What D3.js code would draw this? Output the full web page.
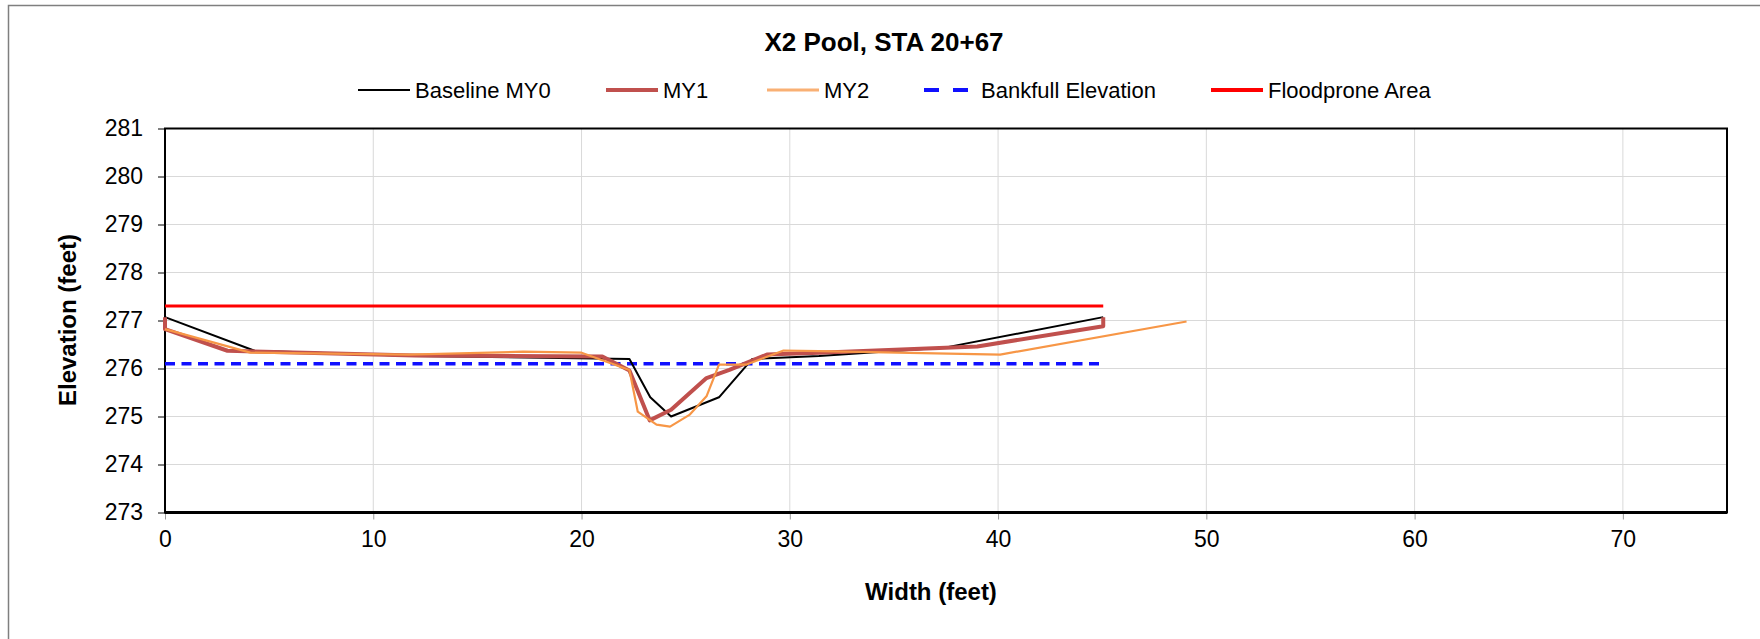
<!DOCTYPE html>

<html lang="en">

<head>
    <meta charset="utf-8">
    <script src="https://d3js.org/d3.v7.min.js"></script>
    <style>
        body { margin: 0; background: #fff; }
        text { font-family: "Liberation Sans", Arial, sans-serif; }
    </style>
</head>

<body>
    <svg id="chart"></svg>

    <script type="text/javascript" charset="utf-8">
        // cross section data
        const baselineX = [0, 4.3, 12, 22.3, 23.3, 24.3, 26.6, 28.2, 31.4, 37.5, 45.05];
        const baselineY = [277.07, 276.37, 276.26, 276.2, 275.4, 275.0, 275.4, 276.2, 276.26, 276.44, 277.07];

        const my1X = [0, 0, 3.0, 12, 21.0, 22.3, 23.27, 24.3, 26.0, 27.1, 28.9, 31.4, 39.0, 45.05, 45.05];
        const my1Y = [277.07, 276.82, 276.37, 276.27, 276.25, 275.96, 274.92, 275.14, 275.8, 275.97, 276.29, 276.33, 276.46, 276.88, 277.07];

        const my2X = [0, 4.1, 11.7, 17.2, 20.0, 22.3, 22.7, 23.6, 24.25, 25.2, 26.0, 26.6, 27.9, 29.7, 31.4, 40.1, 49.05];
        const my2Y = [276.82, 276.33, 276.29, 276.35, 276.33, 275.97, 275.1, 274.83, 274.79, 275.04, 275.42, 276.08, 276.08, 276.375, 276.36, 276.29, 276.98];

        const bankfullX = [0, 45.05];
        const bankfullY = [276.1, 276.1];
        const floodproneX = [0, 45.05];
        const floodproneY = [277.3, 277.3];

        const xTicks = [0, 10, 20, 30, 40, 50, 60, 70];
        const yTicks = [273, 274, 275, 276, 277, 278, 279, 280, 281];

        const seriesNames = ["Baseline MY0", "MY1", "MY2", "Bankfull Elevation", "Floodprone Area"];
        const seriesColors = ["#000000", "#C0504D", "#F79646", "#1010FF", "#FF0000"];

        const width = 1760, height = 639;
        const plot = { left: 165, right: 1727, top: 128.5, bottom: 512.5 };

        const svg = d3.select("#chart")
            .attr("width", width)
            .attr("height", height);

        // outer chart frame
        svg.append("rect")
            .attr("x", 8.5).attr("y", 5.5)
            .attr("width", 1800).attr("height", 800)
            .attr("fill", "none")
            .attr("stroke", "#7f7f7f")
            .attr("stroke-width", 1.5);

        const x = d3.scaleLinear().domain([0, 75]).range([plot.left, plot.right]);
        const y = d3.scaleLinear().domain([273, 281]).range([plot.bottom, plot.top]);

        // gridlines
        svg.append("g").selectAll("line")
            .data(xTicks.filter(d => d > 0))
            .enter().append("line")
            .attr("x1", d => x(d)).attr("x2", d => x(d))
            .attr("y1", plot.top).attr("y2", plot.bottom)
            .attr("stroke", "#d9d9d9").attr("stroke-width", 1);

        svg.append("g").selectAll("line")
            .data(yTicks.filter(d => d > 273 && d < 281))
            .enter().append("line")
            .attr("x1", plot.left).attr("x2", plot.right)
            .attr("y1", d => y(d)).attr("y2", d => y(d))
            .attr("stroke", "#d9d9d9").attr("stroke-width", 1);

        // axes
        const xAxis = svg.append("g")
            .attr("transform", `translate(0,${plot.bottom})`)
            .call(d3.axisBottom(x).tickValues(xTicks).tickSize(7).tickPadding(11));
        xAxis.select(".domain").remove();
        xAxis.selectAll(".tick line").attr("stroke", "#999");
        xAxis.selectAll("text")
            .attr("font-size", 23)
            .attr("fill", "#000");

        const yAxis = svg.append("g")
            .attr("transform", `translate(${plot.left},0)`)
            .call(d3.axisLeft(y).tickValues(yTicks).tickSize(7).tickPadding(15));
        yAxis.select(".domain").remove();
        yAxis.selectAll(".tick line").attr("stroke", "#000");
        yAxis.selectAll("text")
            .attr("font-size", 23)
            .attr("fill", "#000");

        // plot border
        svg.append("rect")
            .attr("x", plot.left).attr("y", plot.top)
            .attr("width", plot.right - plot.left)
            .attr("height", plot.bottom - plot.top)
            .attr("fill", "none")
            .attr("stroke", "#000")
            .attr("stroke-width", 2);
        svg.append("line")
            .attr("x1", plot.left).attr("x2", plot.right)
            .attr("y1", plot.bottom).attr("y2", plot.bottom)
            .attr("stroke", "#000").attr("stroke-width", 3);

        const line = d3.line().x(d => x(d[0])).y(d => y(d[1]));
        const pts = (xs, ys) => xs.map((v, i) => [v, ys[i]]);

        svg.append("path")
            .datum(pts(floodproneX, floodproneY))
            .attr("d", line).attr("fill", "none")
            .attr("stroke", seriesColors[4]).attr("stroke-width", 3);

        svg.append("path")
            .datum(pts(bankfullX, bankfullY))
            .attr("d", line).attr("fill", "none")
            .attr("stroke", seriesColors[3]).attr("stroke-width", 3.5)
            .attr("stroke-dasharray", "10,6.5");

        svg.append("path")
            .datum(pts(baselineX, baselineY))
            .attr("d", line).attr("fill", "none")
            .attr("stroke", seriesColors[0]).attr("stroke-width", 2)
            .attr("stroke-linejoin", "round");

        svg.append("path")
            .datum(pts(my1X, my1Y))
            .attr("d", line).attr("fill", "none")
            .attr("stroke", seriesColors[1]).attr("stroke-width", 4)
            .attr("stroke-linejoin", "round");

        svg.append("path")
            .datum(pts(my2X, my2Y))
            .attr("d", line).attr("fill", "none")
            .attr("stroke", seriesColors[2]).attr("stroke-width", 2.2)
            .attr("stroke-linejoin", "round");

        // title and axis titles
        svg.append("text")
            .attr("x", 884).attr("y", 51)
            .attr("text-anchor", "middle")
            .attr("font-size", 26).attr("font-weight", "bold")
            .text("X2 Pool, STA 20+67");

        svg.append("text")
            .attr("x", 931).attr("y", 600)
            .attr("text-anchor", "middle")
            .attr("font-size", 24).attr("font-weight", "bold")
            .text("Width (feet)");

        svg.append("text")
            .attr("transform", "translate(76,320) rotate(-90)")
            .attr("text-anchor", "middle")
            .attr("font-size", 24).attr("font-weight", "bold")
            .text("Elevation (feet)");

        // legend
        const legendX = [358, 606, 767, 924, 1211];
        const legend = svg.append("g").attr("transform", "translate(0,90)");
        seriesNames.forEach((name, i) => {
            const g = legend.append("g").attr("transform", `translate(${legendX[i]},0)`);
            const isDash = i === 3;
            g.append("line")
                .attr("x1", 0).attr("x2", isDash ? 44 : 52)
                .attr("y1", 0).attr("y2", 0)
                .attr("stroke", seriesColors[i])
                .attr("stroke-width", [2, 4, 3, 4, 4][i])
                .attr("stroke-dasharray", isDash ? "15,14" : null)
                .attr("opacity", i === 2 ? 0.75 : 1);
            g.append("text")
                .attr("x", 57)
                .attr("y", 8)
                .attr("font-size", 22)
                .text(name);
        });
    </script>
</body>

</html>
